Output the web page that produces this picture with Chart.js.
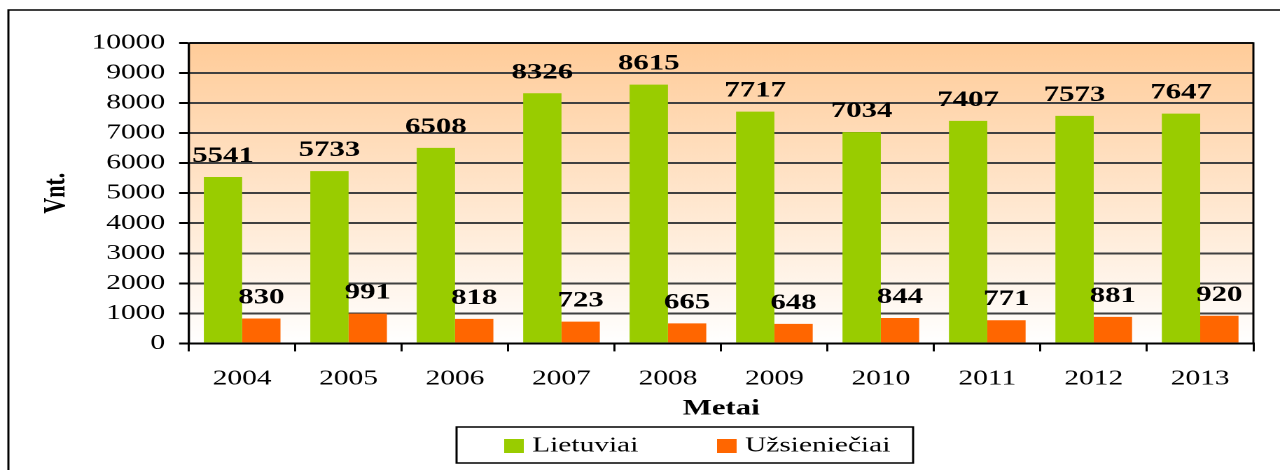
<!DOCTYPE html>
<html>
<head>
<meta charset="utf-8">
<script src="https://cdn.jsdelivr.net/npm/chart.js@4.4.1/dist/chart.umd.min.js"></script>
<style>
  html, body { margin: 0; padding: 0; background: #fff; }
</style>
</head>
<body>
<!-- the original picture is stretched sideways, so the canvas is drawn narrow and widened by css -->
<canvas id="chart" width="914" height="470" style="display:block;width:1280px;height:470px"></canvas>
<script>
const years = ["2004", "2005", "2006", "2007", "2008", "2009", "2010", "2011", "2012", "2013"];
const lietuviai = [5541, 5733, 6508, 8326, 8615, 7717, 7034, 7407, 7573, 7647];
const uzsienieciai = [830, 991, 818, 723, 665, 648, 844, 771, 881, 920];
const seriesNames = ["Lietuviai", "Užsieniečiai"];
const yMax = 10000;
const yStep = 1000;

const SERIF = "'Liberation Serif', 'Times New Roman', serif";
const GREEN = "#99CC00";
const ORANGE = "#FF6600";

const decor = {
  id: "decor",
  beforeDraw(chart) {
    const { ctx, chartArea: a } = chart;
    ctx.save();
    ctx.fillStyle = "#fff";
    ctx.fillRect(0, 0, chart.width, chart.height);

    // peach to white fill behind the bars
    const g = ctx.createLinearGradient(0, a.top, 0, a.bottom);
    g.addColorStop(0, "#FFCC99");
    g.addColorStop(1, "#FFFFFF");
    ctx.fillStyle = g;
    ctx.fillRect(a.left, a.top, a.right - a.left, a.bottom - a.top);

    // outer frame (runs off the right and bottom edges)
    ctx.strokeStyle = "#000";
    ctx.lineWidth = 1.5;
    ctx.beginPath();
    ctx.moveTo(chart.width + 5, 10);
    ctx.lineTo(6, 10);
    ctx.lineTo(6, chart.height + 5);
    ctx.stroke();
    ctx.restore();
  },
  afterDraw(chart) {
    const { ctx, chartArea: a } = chart;
    ctx.save();

    // plot frame
    ctx.strokeStyle = "#000";
    ctx.lineWidth = 1.5;
    ctx.strokeRect(a.left, a.top, a.right - a.left, a.bottom - a.top);

    // values above the bars
    ctx.fillStyle = "#000";
    ctx.font = "bold 22px " + SERIF;
    ctx.textAlign = "center";
    ctx.textBaseline = "alphabetic";
    chart.data.datasets.forEach((ds, di) => {
      chart.getDatasetMeta(di).data.forEach((bar, i) => {
        ctx.fillText(String(ds.data[i]), bar.x, bar.y - 15);
      });
    });

    // legend in a box
    const lx = 326, ly = 427, lw = 326, lh = 36;
    ctx.lineWidth = 1.5;
    ctx.strokeRect(lx, ly, lw, lh);
    const itemX = [lx + 34, lx + 186];
    ctx.font = "21px " + SERIF;
    ctx.textAlign = "left";
    ctx.textBaseline = "middle";
    chart.data.datasets.forEach((ds, di) => {
      ctx.fillStyle = ds.backgroundColor;
      ctx.fillRect(itemX[di], ly + 12, 14, 14);
      ctx.fillStyle = "#000";
      ctx.fillText(ds.label, itemX[di] + 20, ly + 19);
    });
    ctx.restore();
  }
};

new Chart(document.getElementById("chart"), {
  type: "bar",
  data: {
    labels: years,
    datasets: [
      { label: seriesNames[0], data: lietuviai, backgroundColor: GREEN },
      { label: seriesNames[1], data: uzsienieciai, backgroundColor: ORANGE },
    ],
  },
  options: {
    responsive: false,
    animation: false,
    devicePixelRatio: 2,
    categoryPercentage: 0.72,
    barPercentage: 1.0,
    layout: { padding: { left: 16, right: 19, top: 43, bottom: 48 } },
    plugins: {
      legend: { display: false },
      tooltip: { enabled: false },
    },
    scales: {
      x: {
        ticks: { color: "#000", font: { family: SERIF, size: 21 }, padding: 15, maxRotation: 0 },
        grid: { drawOnChartArea: false, offset: true, tickLength: 8, tickColor: "#000", lineWidth: 1.5 },
        border: { color: "#000", width: 2 },
        title: {
          display: true,
          text: "Metai",
          color: "#000",
          font: { family: SERIF, size: 22, weight: "bold" },
          padding: { top: -11, bottom: 0 },
        },
      },
      y: {
        min: 0,
        max: yMax,
        ticks: {
          stepSize: yStep,
          padding: 10,
          color: "#000",
          font: { family: SERIF, size: 21 },
          callback: v => String(v),
        },
        grid: { color: "#404040", lineWidth: 2, tickLength: 7, tickColor: "#000" },
        border: { color: "#000", width: 1.5 },
        title: {
          display: true,
          text: "Vnt.",
          color: "#000",
          font: { family: SERIF, size: 22, weight: "bold" },
          padding: { top: 11, bottom: 2 },
        },
      },
    },
  },
  plugins: [decor],
});
</script>
</body>
</html>
